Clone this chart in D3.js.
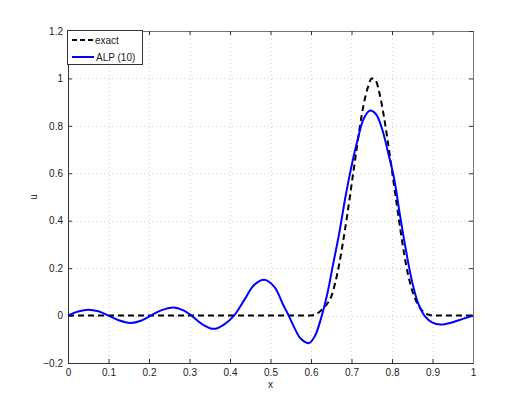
<!DOCTYPE html>
<html>
<head>
<meta charset="utf-8">
<script src="https://cdn.jsdelivr.net/npm/d3@7"></script>
<style>
  body { margin: 0; background: #fff; }
  svg text { font-family: "Liberation Sans", Arial, sans-serif; font-size: 10px; fill: #222; }
</style>
</head>
<body>
<svg width="524" height="409"></svg>
<script>
// values
var exactX = [0, 0.6, 0.61, 0.62, 0.63, 0.64, 0.65, 0.66, 0.67, 0.68, 0.69, 0.70, 0.71, 0.72, 0.73, 0.74, 0.75,
  0.76, 0.77, 0.78, 0.79, 0.80, 0.81, 0.82, 0.83, 0.84, 0.85, 0.86, 0.87, 0.88, 0.89, 0.90, 1.0];
var exactU = [0, 0, 0.004, 0.014, 0.03, 0.05, 0.08, 0.14, 0.22, 0.32, 0.43, 0.55, 0.67, 0.79, 0.89, 0.96, 1.0,
  0.99, 0.93, 0.84, 0.73, 0.61, 0.49, 0.37, 0.26, 0.17, 0.105, 0.06, 0.03, 0.012, 0.004, 0, 0];

var alpX = [0, 0.025, 0.05, 0.075, 0.10, 0.125, 0.155, 0.18, 0.205, 0.23, 0.26, 0.285, 0.305, 0.33, 0.36, 0.385,
  0.41, 0.435, 0.46, 0.485, 0.51, 0.53, 0.545, 0.56, 0.575, 0.595, 0.61, 0.625, 0.64, 0.655, 0.67, 0.685,
  0.70, 0.715, 0.73, 0.745, 0.76, 0.775, 0.79, 0.805, 0.82, 0.835, 0.85, 0.865, 0.88, 0.90, 0.92, 0.95, 0.975, 1.0];
var alpU = [0, 0.017, 0.025, 0.018, 0.0, -0.02, -0.031, -0.022, 0.0, 0.022, 0.034, 0.022, 0.0, -0.035, -0.056, -0.038,
  0.0, 0.065, 0.13, 0.151, 0.12, 0.05, 0.0, -0.055, -0.098, -0.116, -0.085, -0.01, 0.09, 0.22, 0.35, 0.50,
  0.63, 0.74, 0.83, 0.864, 0.85, 0.79, 0.69, 0.58, 0.42, 0.27, 0.14, 0.05, 0.0, -0.03, -0.038, -0.028, -0.014, 0];

var xTicks = [0, 0.1, 0.2, 0.3, 0.4, 0.5, 0.6, 0.7, 0.8, 0.9, 1];
var yTicks = [-0.2, 0, 0.2, 0.4, 0.6, 0.8, 1, 1.2];
var legendLabels = ["exact", "ALP (10)"];

var svg = d3.select("svg");
var plotLeft = 68, plotRight = 473, plotTop = 31, plotBottom = 363;

var x = d3.scaleLinear().domain([0, 1]).range([plotLeft, plotRight]);
var y = d3.scaleLinear().domain([-0.2, 1.2]).range([plotBottom, plotTop]);

// grid
var grid = svg.append("g")
    .attr("stroke", "#d4d4d4")
    .attr("stroke-width", 1)
    .attr("stroke-dasharray", "1,3");
grid.selectAll(".gx").data(xTicks.slice(1, -1)).enter().append("line")
    .attr("x1", d => Math.round(x(d)) + 0.5).attr("x2", d => Math.round(x(d)) + 0.5)
    .attr("y1", plotTop).attr("y2", plotBottom);
grid.selectAll(".gy").data(yTicks.slice(1, -1)).enter().append("line")
    .attr("y1", d => Math.round(y(d)) + 0.5).attr("y2", d => Math.round(y(d)) + 0.5)
    .attr("x1", plotLeft).attr("x2", plotRight);

// axes, ticks pointing inward
var xAxis = svg.append("g")
    .attr("transform", "translate(0," + plotBottom + ")")
    .call(d3.axisBottom(x).tickValues(xTicks).tickSize(-4).tickPadding(6).tickFormat(d3.format("")));
var xAxisTop = svg.append("g")
    .attr("transform", "translate(0," + plotTop + ")")
    .call(d3.axisTop(x).tickValues(xTicks).tickSize(-4).tickFormat(""));
var yAxis = svg.append("g")
    .attr("transform", "translate(" + plotLeft + ",0)")
    .call(d3.axisLeft(y).tickValues(yTicks).tickSize(-4).tickPadding(5).tickFormat(d3.format("")));
var yAxisRight = svg.append("g")
    .attr("transform", "translate(" + plotRight + ",0)")
    .call(d3.axisRight(y).tickValues(yTicks).tickSize(-4).tickFormat(""));

svg.selectAll(".domain").attr("stroke", "#333");
svg.selectAll(".tick line").attr("stroke", "#333");
xAxis.selectAll("text").attr("font-size", 10).attr("font-family", null).attr("fill", "#222");
yAxis.selectAll("text").attr("font-size", 10).attr("font-family", null).attr("fill", "#222");
xAxisTop.select(".domain").attr("stroke", "#777");
yAxisRight.select(".domain").attr("stroke", "#777");

var line = d3.line()
    .x(d => x(d[0]))
    .y(d => y(d[1]))
    .curve(d3.curveMonotoneX);

svg.append("path")
    .datum(d3.zip(exactX, exactU))
    .attr("fill", "none")
    .attr("stroke", "#000")
    .attr("stroke-width", 2)
    .attr("stroke-dasharray", "6,4")
    .attr("d", line);

svg.append("path")
    .datum(d3.zip(alpX, alpU))
    .attr("fill", "none")
    .attr("stroke", "#0000ff")
    .attr("stroke-width", 2)
    .attr("d", line.curve(d3.curveCatmullRom));

// axis labels
svg.append("text").attr("x", (plotLeft + plotRight) / 2).attr("y", 388)
    .attr("text-anchor", "middle").text("x");
svg.append("text").attr("transform", "translate(37," + ((plotTop + plotBottom) / 2) + ") rotate(-90)")
    .attr("text-anchor", "middle").text("u");

// legend
var lg = svg.append("g").attr("transform", "translate(68,30)");
lg.append("rect").attr("x", -0.5).attr("y", 0.5).attr("width", 75).attr("height", 34)
    .attr("fill", "#fff").attr("stroke", "#333");
lg.append("line").attr("x1", 4).attr("x2", 26).attr("y1", 10).attr("y2", 10)
    .attr("stroke", "#000").attr("stroke-width", 2).attr("stroke-dasharray", "5,3");
lg.append("line").attr("x1", 4).attr("x2", 26).attr("y1", 27).attr("y2", 27)
    .attr("stroke", "#0000ff").attr("stroke-width", 2);
lg.selectAll(".lt").data(legendLabels).enter().append("text")
    .attr("x", (d, i) => i === 0 ? 27 : 28)
    .attr("y", (d, i) => i === 0 ? 14 : 31)
    .text(d => d);
</script>
</body>
</html>
